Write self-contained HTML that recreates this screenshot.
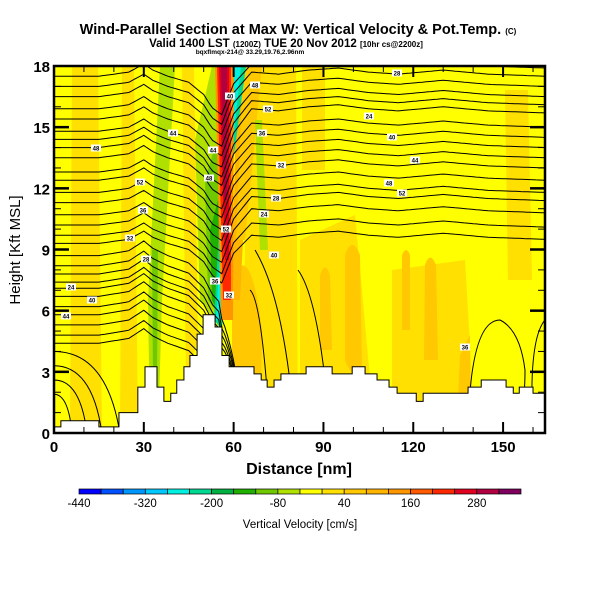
<!DOCTYPE html>
<html><head><meta charset="utf-8"><style>
body{margin:0;background:#fff;}
svg{display:block;font-family:"Liberation Sans",sans-serif;}
</style></head><body>
<svg id="chart" width="600" height="600" viewBox="0 0 600 600" xmlns="http://www.w3.org/2000/svg">
<rect width="600" height="600" fill="#fff"/>
<text x="298" y="34" text-anchor="middle" font-size="14.5" font-weight="bold">Wind-Parallel Section at Max W: Vertical Velocity &amp; Pot.Temp. <tspan font-size="8">(C)</tspan></text>
<text x="286" y="47" text-anchor="middle" font-size="11.5" font-weight="bold">Valid 1400 LST <tspan font-size="8">(1200Z)</tspan> TUE 20 Nov 2012 <tspan font-size="8">[10hr cs@2200z]</tspan></text>
<text x="250" y="54" text-anchor="middle" font-size="6.5" font-weight="bold">bqxflmqx-214@ 33.29,19.76,2.96nm</text>
<defs><clipPath id="plotclip"><rect x="54" y="66" width="491" height="367"/></clipPath></defs>
<g id="plot" clip-path="url(#plotclip)"></g>
<g id="axes"></g>
<g id="cbar"></g>
<text x="299" y="474" text-anchor="middle" font-size="16" font-weight="bold">Distance [nm]</text>
<text transform="translate(20,250) rotate(-90)" text-anchor="middle" font-size="15">Height [Kft MSL]</text>
<text x="300" y="528" text-anchor="middle" font-size="11.5">Vertical Velocity [cm/s]</text>
</svg>
<script>
// ---- data ----
const terrainDist = [0,2.3,15,21.7,28,30.4,34.4,36.7,39,41,43.4,45.4,47.8,49.8,53.8,56.1,58.5,66.8,69.2,71.2,73.5,75.8,84.2,92.9,99.6,103.9,107.9,111.9,114.6,121,123.3,138.3,142.7,151,153.4,155.4,160,164];
const terrainHgt  = [0.3,0.6,0.3,1.0,2.25,3.25,2.25,1.55,1.95,2.6,3.25,3.8,4.85,5.8,5.2,3.8,3.25,2.9,2.6,2.25,2.6,2.9,3.25,2.9,3.25,2.9,2.6,2.25,1.95,1.55,1.95,2.25,2.6,2.25,1.95,2.25,1.95,1.95];
const thetaLeft  = [17.5,17.0,16.5,15.9,15.4,14.8,14.4,14.0,13.5,12.8,12.4,11.8,11.3,10.7,10.2,9.7,9.3,8.7,8.2,7.8,7.4,7.1,6.7,6.2,5.8,5.3,4.8,4.4];
const thetaRight = [17.9,17.5,17.0,16.5,16.1,15.7,15.0,14.5,14.0,13.5,13.0,12.4,11.8,11.4,10.8,10.1,9.5,0,0,0,0,0,0,0,0,0,0,0];
const waveDist = [0,15,25,30,33,38,45,50,53,56,60,66,75,85,95,105,115,130,145,164];
const waveOff  = [0,0,0.2,0.6,0.3,0,-0.3,-0.9,-1.6,-2.0,-0.6,0.2,0.1,0.3,0.4,0.2,0.1,0.3,0.1,0];
const thetaLabels = ["40","44","48","52","36","32","28","24"];
const cbarValues = [-440,-400,-360,-320,-280,-240,-200,-160,-120,-80,-40,0,40,80,120,160,200,240,280,320,360];
const cbarColors = ["#0000ff","#0050ff","#0096ff","#00c8ff","#00f0e0","#00d890","#00b040","#20b000","#70c800","#b0e000","#ffff00","#ffe000","#ffc800","#ffb400","#ff9600","#ff5a00","#ff2800","#e00020","#b00040","#800060"];
const cbarTickLabels = [-440,-320,-200,-80,40,160,280];
const xTicks = [0,30,60,90,120,150];
const yTicks = [0,3,6,9,12,15,18];

// ---- scales ----
const X0=54,X1=545,Y0=433,Y1=66,DMAX=164,HMAX=18;
const sx=d=>X0+d*(X1-X0)/DMAX;
const sy=h=>Y0-h*(Y0-Y1)/HMAX;
const NS="http://www.w3.org/2000/svg";
function mk(tag,attrs,parent){const e=document.createElementNS(NS,tag);for(const k in attrs)e.setAttribute(k,attrs[k]);parent.appendChild(e);return e;}
const plot=document.getElementById('plot'),axes=document.getElementById('axes'),cbar=document.getElementById('cbar');

// ---- shaded field (approximate) ----
let bg=mk('rect',{x:54,y:66,width:491,height:367,fill:'#ffff00'},plot);


const blobs=[
 ['#ffe000','M72,66 L98,66 L102,433 L70,433Z'],
 ['#ffe000','M122,66 L134,66 L138,433 L120,433Z'],
 ['#ffe000','M182,66 L194,66 L198,340 L186,380Z'],
 ['#ffe000','M248,66 L296,66 L298,433 L242,433Z'],
 ['#ffe000','M300,240 L355,215 L375,433 L300,433Z'],
 ['#ffe000','M392,270 L465,260 L475,433 L392,433Z'],
 ['#ffe000','M505,90 L528,90 L532,280 L508,280Z'],
 ['#ffe000','M302,66 L325,66 L325,170 L302,170Z'],
 ['#ffc800','M345,255 Q352,235 360,255 L362,370 Q352,380 345,360Z'],
 ['#ffc800','M320,275 Q325,260 330,275 L332,350 L320,350Z'],
 ['#ffc800','M425,265 Q430,250 436,265 L438,360 L424,360Z'],
 ['#ffc800','M402,255 Q406,245 410,255 L410,330 L402,330Z'],
 ['#ffc800','M460,355 L470,335 L470,400 L458,400Z'],
 ['#ffc800','M232,280 Q250,235 262,330 L260,433 L232,433Z'],
 ['#ffb400','M236,100 L250,100 L240,300 L232,300Z'],
 ['#ffc800','M243,66 L262,66 L245,240 L236,240Z'],
 ['#b0e000','M160,66 L175,66 L162,300 L158,433 L150,433 L148,300Z'],
 ['#70c800','M152,250 L158,250 L157,380 L153,380Z'],
 ['#b0e000','M255,120 L262,120 L268,250 L260,250Z'],
 ['#b0e000','M195,140 L212,66 L220,66 L222,330 L200,300Z'],
 ['#70c800','M205,180 L214,150 L220,150 L222,320 L208,300Z'],
 ['#20b000','M210,230 L218,200 L222,200 L222,320 L212,300Z'],
 ['#00d890','M228,66 L246,66 L228,200 L222,330 L214,320Z'],
 ['#00f0e0','M231,66 L241,66 L226,210 L220,320 L216,320Z'],
 ['#ff9600','M215,66 L234,66 L233,320 L221,320Z'],
 ['#ff2800','M217,66 L231,66 L231,300 L223,300Z'],
 ['#e00020','M219,66 L229,66 L229,260 L225,260Z'],
 ['#b00040','M221,66 L227,66 L227,200 L224,200Z']
];
blobs.forEach((b,i)=>{const p=mk('path',{d:b[1],fill:b[0]},plot);

});

// ---- isentropes ----
function interp(xs,ys,x){for(let i=0;i<xs.length-1;i++){if(x<=xs[i+1]){const t=(x-xs[i])/(xs[i+1]-xs[i]);return ys[i]+t*(ys[i+1]-ys[i]);}}return ys[ys.length-1];}
thetaLeft.forEach((L,i)=>{
  const R=thetaRight[i];const low=R<L-3;
  let d='';
  for(let x=0;x<=DMAX;x+=1){
    const w=low?Math.min(1,Math.max(0,(x-55)/9)):Math.min(1,Math.max(0,(x-52)/14));
    const h=L+(R-L)*w+interp(waveDist,waveOff,x)*(low?1.2*(1-w):1);
    d+=(x===0?'M':'L')+sx(x).toFixed(1)+','+sy(h).toFixed(1);
  }
  const p=mk('path',{d:d,fill:'none',stroke:'#000','stroke-width':1},plot);
  
  
});
// low-level left contours curving into terrain
[[4.0,22],[3.3,16],[2.6,11],[1.9,6]].forEach(c=>{
  const p=mk('path',{d:`M${sx(0)},${sy(c[0])} Q${sx(c[1]*0.8)},${sy(c[0])} ${sx(c[1])},${sy(0)}`,fill:'none',stroke:'#000','stroke-width':1},plot);
  
  
});
// other contours
['M468,433 Q470,320 500,320 Q520,330 525,370 Q525,400 520,433','M545,320 Q528,340 533,433','M298,270 Q320,300 330,433','M250,290 Q262,300 270,433','M255,250 Q285,300 295,433'].forEach(c=>{
  const p=mk('path',{d:c,fill:'none',stroke:'#000','stroke-width':1},plot);
  
  
});
// contour labels
[[230,96],[173,133],[96,148],[140,182],[143,210],[130,238],[146,259],[71,287],[92,300],[66,316],[255,85],[268,109],[262,133],[281,165],[276,198],[264,214],[274,255],[213,150],[209,178],[226,229],[215,281],[229,295],[397,73],[369,116],[392,137],[415,160],[389,183],[402,193],[465,347]].forEach((q,i)=>{
  const r=mk('rect',{x:q[0]-5,y:q[1]-3.5,width:10,height:7,fill:'#fff'},plot);
  
  
  const t=mk('text',{x:q[0],y:q[1]+2.5,'text-anchor':'middle','font-size':6,'font-weight':'bold'},plot);
  t.textContent=thetaLabels[i%thetaLabels.length];
  
  
});

// ---- terrain ----
let td=`M${sx(0)},${sy(0)}`;
for(let i=0;i<terrainDist.length;i++){
  const x0=sx(terrainDist[i]),x1=sx(i<terrainDist.length-1?terrainDist[i+1]:DMAX);
  td+=` L${x0},${sy(terrainHgt[i])} L${x1},${sy(terrainHgt[i])}`;
}
td+=` L${sx(DMAX)},${sy(0)}Z`;
const terr=mk('path',{d:td,fill:'#fff',stroke:'#000','stroke-width':1},plot);



// ---- axes ----
const frame=mk('rect',{x:X0,y:Y1,width:X1-X0,height:Y0-Y1,fill:'none',stroke:'#000','stroke-width':2.5},axes);


for(let d=10;d<DMAX;d+=10){
  const major=xTicks.includes(d),len=major?11:6,x=sx(d);
  const a=mk('line',{x1:x,y1:Y0,x2:x,y2:Y0-len,stroke:'#000','stroke-width':major?2:1},axes);
  
  
  const b=mk('line',{x1:x,y1:Y1,x2:x,y2:Y1+len,stroke:'#000','stroke-width':major?2:1},axes);
  
  
}
xTicks.forEach(d=>{const t=mk('text',{x:sx(d),y:452,'text-anchor':'middle','font-size':15,'font-weight':'bold'},axes);t.textContent=d;

});
for(let h=1;h<HMAX;h++){
  const major=yTicks.includes(h),len=major?15:7,y=sy(h);
  const a=mk('line',{x1:X0,y1:y,x2:X0+len,y2:y,stroke:'#000','stroke-width':major?2.5:1},axes);
  
  
  const b=mk('line',{x1:X1,y1:y,x2:X1-len,y2:y,stroke:'#000','stroke-width':major?2.5:1},axes);
  
  
}
yTicks.forEach(h=>{const t=mk('text',{x:50,y:sy(h)+6,'text-anchor':'end','font-size':15,'font-weight':'bold'},axes);t.textContent=h;

});

// ---- colorbar ----
const CB0=79,CB1=521,cbx=v=>CB0+(v-cbarValues[0])*(CB1-CB0)/(cbarValues[cbarValues.length-1]-cbarValues[0]);
cbarColors.forEach((c,i)=>{const r=mk('rect',{x:cbx(cbarValues[i]),y:489,width:cbx(cbarValues[i+1])-cbx(cbarValues[i]),height:5,fill:c,stroke:'#000','stroke-width':0.7},cbar);

});
cbarTickLabels.forEach(v=>{const t=mk('text',{x:cbx(v),y:507,'text-anchor':'middle','font-size':11.5},cbar);t.textContent=v;

});
</script>
</body></html>
